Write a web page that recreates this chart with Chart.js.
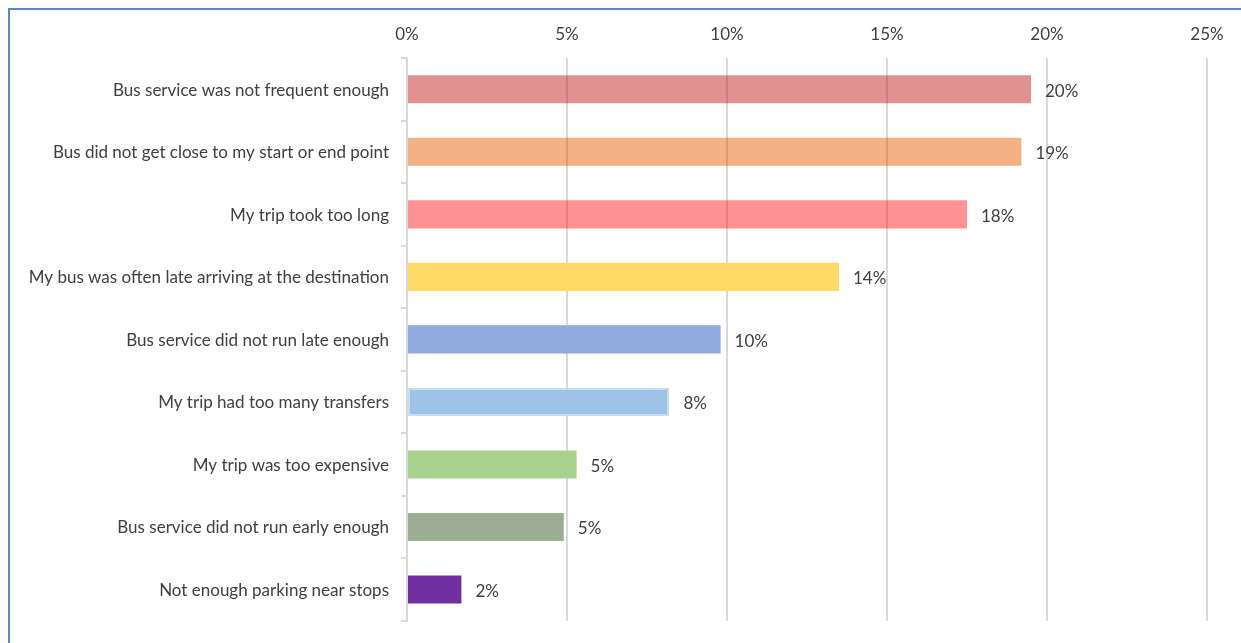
<!DOCTYPE html>
<html>
<head>
<meta charset="utf-8">
<script src="https://cdn.jsdelivr.net/npm/chart.js@4"></script>
<style>
  html, body { margin: 0; padding: 0; background: #ffffff; }
  #wrap { position: relative; width: 1241px; height: 643px; overflow: hidden; }
  #frame { position: absolute; left: 8px; top: 8px; width: 1260px; height: 700px;
           border-left: 2px solid #5B86C6; border-top: 2px solid #5B86C6; box-sizing: border-box; }
  canvas { position: absolute; left: 0; top: 0; }
</style>
</head>
<body>
<div id="wrap">
  <div id="frame"></div>
  <canvas id="chart" width="1241" height="643"></canvas>
</div>
<script>
// Reasons given for not riding the bus (share of respondents)
const categories = [
  "Bus service was not frequent enough",
  "Bus did not get close to my start or end point",
  "My trip took too long",
  "My bus was often late arriving at the destination",
  "Bus service did not run late enough",
  "My trip had too many transfers",
  "My trip was too expensive",
  "Bus service did not run early enough",
  "Not enough parking near stops"
];
const shares = [19.5, 19.2, 17.5, 13.5, 9.8, 8.2, 5.3, 4.9, 1.7];
const tickValues = [0, 5, 10, 15, 20, 25];

const barColors = [
  "#E39091", "#F4B183", "#FF9393", "#FFD966", "#8FAADC",
  "#9DC3E6", "#A9D18E", "#9DAD93", "#7030A0"
];
const barBorders = [
  "#E39091", "#F4B183", "#FF9393", "#FFD966", "#8FAADC",
  "#C7DDF1", "#A9D18E", "#9DAD93", "#7030A0"
];
const barBorderWidths = [0, 0, 0, 0, 0, 2, 0, 0, 0];
// bars that let the vertical gridlines show through
const seeThrough = [0, 1, 2];

const FONT = "Lato, 'Open Sans', sans-serif";
const FONT_SIZE = 17;
const TEXT = "#404040";

const valueLabels = {
  id: "valueLabels",
  afterDatasetsDraw(chart) {
    const ctx = chart.ctx;
    const meta = chart.getDatasetMeta(0);
    const xs = chart.scales.x;
    ctx.save();
    // gridlines visible through the translucent bars
    ctx.strokeStyle = "rgba(60,0,0,0.13)";
    ctx.lineWidth = 2;
    seeThrough.forEach(i => {
      const bar = meta.data[i];
      const h = bar.height / 2;
      tickValues.forEach(t => {
        const px = xs.getPixelForValue(t);
        if (t > 0 && px < bar.x) {
          ctx.beginPath();
          ctx.moveTo(px, bar.y - h);
          ctx.lineTo(px, bar.y + h);
          ctx.stroke();
        }
      });
    });
    ctx.fillStyle = TEXT;
    ctx.font = FONT_SIZE + "px " + FONT;
    ctx.textAlign = "left";
    ctx.textBaseline = "middle";
    meta.data.forEach((bar, i) => {
      ctx.fillText(Math.round(shares[i]) + "%", bar.x + 14, bar.y + 2);
    });
    ctx.restore();
  }
};

new Chart(document.getElementById("chart"), {
  type: "bar",
  data: {
    labels: categories,
    datasets: [{
      data: shares,
      backgroundColor: barColors,
      borderColor: barBorders,
      borderWidth: barBorderWidths,
      borderSkipped: false,
      barPercentage: 0.9,
      categoryPercentage: 0.5
    }]
  },
  options: {
    indexAxis: "y",
    responsive: false,
    animation: false,
    devicePixelRatio: 1,
    layout: { padding: { left: 0, right: 34, top: 0, bottom: 18 } },
    plugins: {
      legend: { display: false },
      tooltip: { enabled: false }
    },
    scales: {
      x: {
        position: "top",
        min: 0,
        max: 25,
        afterBuildTicks(scale) {
          scale.ticks = tickValues.map(v => ({ value: v }));
        },
        afterFit(scale) { scale.height = 58; },
        grid: { color: "#D9D9D9", lineWidth: 2, drawTicks: false },
        border: { display: false },
        ticks: {
          padding: 13,
          color: TEXT,
          font: { family: FONT, size: FONT_SIZE },
          callback: v => v + "%"
        }
      },
      y: {
        afterFit(scale) { scale.width = 407; },
        grid: {
          drawOnChartArea: false,
          drawTicks: true,
          tickLength: 6,
          color: "#D9D9D9",
          lineWidth: 2,
          offset: true
        },
        border: { display: true, color: "#D9D9D9", width: 2 },
        ticks: {
          padding: 12,
          labelOffset: 1,
          color: TEXT,
          font: { family: FONT, size: FONT_SIZE }
        }
      }
    }
  },
  plugins: [valueLabels]
});
</script>
</body>
</html>
